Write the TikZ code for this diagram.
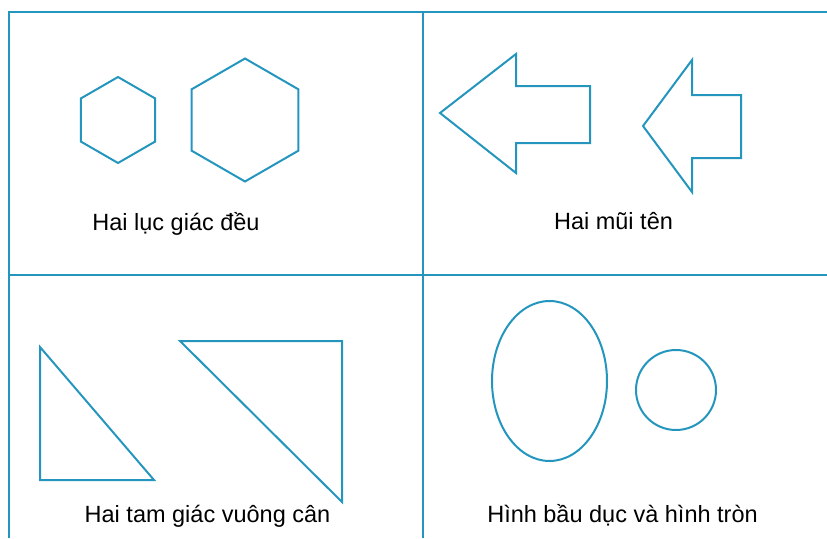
\documentclass[tikz,border=0pt]{standalone}
\usepackage{fontspec}
\setmainfont{Liberation Sans}
\definecolor{xanhhinh}{RGB}{36,150,190}

\begin{document}
\begin{tikzpicture}[
    x=1pt, y=-1pt,
    khung/.style={draw=xanhhinh, line width=2.4pt},
    hinh/.style={draw=xanhhinh, line width=2pt, line join=miter},
    nhan/.style={font=\fontsize{23.5}{28}\selectfont, anchor=base, inner sep=0pt},
]
\useasboundingbox (0,0) rectangle (827,538);

% khung chia bon o
\draw[khung] (9,538) -- (9,12) -- (827,12);
\draw[khung] (423,12) -- (423,538);
\draw[khung] (9,275) -- (827,275);

% hai luc giac deu
\foreach \tam/\r in {118/43, 245/61.5}
    \draw[hinh] (\tam,120) +(30:\r) -- +(90:\r) -- +(150:\r) -- +(210:\r)
        -- +(270:\r) -- +(330:\r) -- cycle;
\node[nhan] (lucgiac) at (176,230) {Hai lục giác đều};

% hai mui ten
\draw[hinh] (440,113) -- (516,54) -- (516,86) -- (590,86) -- (590,143)
    -- (516,143) -- (516,173) -- cycle;
\draw[hinh] (643,126) -- (692,60) -- (692,95) -- (741,95) -- (741,158)
    -- (692,158) -- (692,192) -- cycle;
\node[nhan] (muiten) at (613.5,229) {Hai mũi tên};

% hai tam giac vuong can
\draw[hinh] (40,347) -- (40,480) -- (154,480) -- cycle;
\draw[hinh] (180,341) -- (342,341) -- (342,502) -- cycle;
\node[nhan] (tamgiac) at (207.5,522) {Hai tam giác vuông cân};

% bau duc va tron
\draw[hinh] (549.5,381) ellipse [x radius=57.5, y radius=80];
\draw[hinh] (676,390) circle [radius=40];
\node[nhan] (bauduc) at (622.5,522) {Hình bầu dục và hình tròn};
\end{tikzpicture}
\end{document}
